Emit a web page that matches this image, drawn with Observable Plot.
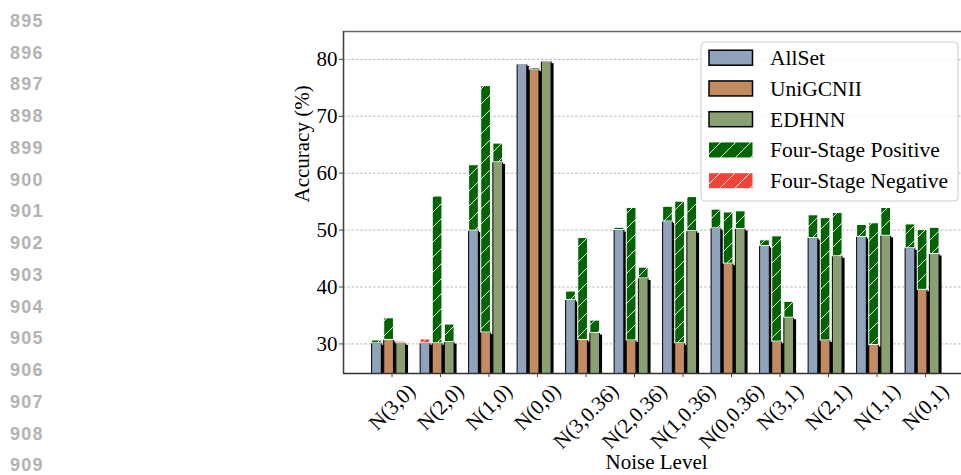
<!DOCTYPE html>
<html>
<head>
<meta charset="utf-8">
<script src="https://cdn.jsdelivr.net/npm/d3@7"></script>
<script src="https://cdn.jsdelivr.net/npm/@observablehq/plot@0.6"></script>
<style>
  html, body { margin: 0; padding: 0; background: #fff; overflow: hidden; }
  #chart svg { overflow: hidden; display: block; }
</style>
</head>
<body>
<div id="chart"></div>
<script>
// Noise levels on the x axis
const categories = ["N(3,0)", "N(2,0)", "N(1,0)", "N(0,0)", "N(3,0.36)", "N(2,0.36)",
                    "N(1,0.36)", "N(0,0.36)", "N(3,1)", "N(2,1)", "N(1,1)", "N(0,1)"];

// Baseline accuracy of each model (%)
const allsetBase   = [30.1, 30.8, 49.9, 79.1, 37.7, 50.0, 51.5, 50.3, 47.2, 48.6, 48.8, 46.8];
const unigcniiBase = [30.7, 30.1, 32.0, 78.2, 30.7, 30.6, 30.1, 44.1, 30.4, 30.6, 29.8, 39.5];
const edhnnBase    = [30.4, 30.3, 61.9, 79.6, 31.9, 41.5, 49.8, 50.2, 34.6, 45.4, 49.0, 45.8];

// Accuracy of each model after the Four-Stage procedure (%)
const allsetFour   = [30.6, 30.1, 61.4, 79.2, 39.2, 50.4, 54.1, 53.6, 48.2, 52.6, 50.9, 51.0];
const unigcniiFour = [34.5, 55.9, 75.3, 78.5, 48.6, 53.9, 55.0, 53.1, 48.9, 52.1, 51.2, 50.0];
const edhnnFour    = [30.1, 33.4, 65.2, 79.7, 34.1, 43.4, 55.8, 53.3, 37.4, 53.0, 53.9, 50.4];

const seriesNames = ["AllSet", "UniGCNII", "EDHNN"];
const seriesColors = ["#8fa3bc", "#c48a60", "#8aa070"];
const yTicks = [30, 40, 50, 60, 70, 80];
const lineNumbers = [895, 896, 897, 898, 899, 900, 901, 902, 903, 904, 905, 906, 907, 908, 909];

const baseSets = [allsetBase, unigcniiBase, edhnnBase];
const fourSets = [allsetFour, unigcniiFour, edhnnFour];

// Bar placement inside each noise-level group (in category units)
const barWidth = 0.2;
const barOffsets = [-0.31, -0.06, 0.19];

const rows = [];
categories.forEach((c, i) => {
  seriesNames.forEach((s, k) => {
    const base = baseSets[k][i], four = fourSets[k][i];
    rows.push({i, k, series: s, base, four, lo: Math.min(base, four), hi: Math.max(base, four)});
  });
});
const gains = rows.filter(d => d.four > d.base);
const losses = rows.filter(d => d.four < d.base);

const bx1 = d => d.i + barOffsets[d.k] - barWidth / 2;
const bx2 = d => d.i + barOffsets[d.k] + barWidth / 2;

const serif = "'Liberation Serif', 'Times New Roman', Times, serif";
const fontPx = 21;

// Measure tick label lengths so each rotated label is centred under its tick
const ctx = document.createElement("canvas").getContext("2d");
ctx.font = `${fontPx}px ${serif}`;
const tickLabelMarks = categories.map((c, i) => {
  const L = ctx.measureText(c).width;
  return Plot.text([c], {
    x: () => i, text: d => d, frameAnchor: "bottom",
    rotate: -45, textAnchor: "end", lineAnchor: "middle",
    dx: 0.3535 * L, dy: 14, fontSize: fontPx, fill: "black"
  });
});

const yDomain = [24.8, 84.9];

const chart = Plot.plot({
  width: 961,
  height: 475,
  marginLeft: 343,
  marginRight: 0,
  marginTop: 31,
  marginBottom: 102,
  style: {fontFamily: serif, fontSize: `${fontPx}px`, color: "black", background: "white"},
  x: {domain: [-1, 12], range: [343, 973.5], axis: null},
  y: {domain: yDomain, axis: null},
  color: {domain: seriesNames, range: seriesColors},
  marks: [
    Plot.ruleY(yTicks, {stroke: "#b0b0b0", strokeWidth: 0.9, strokeDasharray: "2.5,1.8"}),
    // drop shadow behind each model bar
    Plot.rect(rows, {x1: bx1, x2: bx2, y1: 0, y2: d => d.lo, fill: "black", dx: 2.5, dy: 2, clip: true}),
    Plot.rect(rows, {x1: bx1, x2: bx2, y1: 0, y2: d => d.lo, fill: "series", stroke: "black", strokeWidth: 1, clip: true}),
    Plot.rect(gains, {x1: bx1, x2: bx2, y1: "lo", y2: "hi", fill: "url(#hatch-pos)", stroke: "white", strokeWidth: 1, clip: true}),
    Plot.rect(losses, {x1: bx1, x2: bx2, y1: "lo", y2: "hi", fill: "url(#hatch-neg)", stroke: "white", strokeWidth: 1, clip: true}),
    // spines
    Plot.ruleY([yDomain[1]], {stroke: "#666", strokeWidth: 1.6}),
    Plot.ruleY([yDomain[0]], {stroke: "#333", strokeWidth: 1.6}),
    Plot.ruleX([-1], {stroke: "#444", strokeWidth: 1.6}),
    Plot.axisY(yTicks, {tickSize: 4, tickPadding: 2, fontSize: fontPx, label: null, stroke: "#444"}),
    Plot.axisX(d3.range(categories.length), {tickSize: 4, tickFormat: () => "", label: null, stroke: "#444"}),
    ...tickLabelMarks,
    Plot.text(["Accuracy (%)"], {frameAnchor: "left", rotate: -90, dx: -41, fontSize: fontPx, fill: "black"}),
    Plot.text(["Noise Level"], {frameAnchor: "bottom", dx: 4, dy: 95, fontSize: fontPx, fill: "black"})
  ]
});

document.getElementById("chart").appendChild(chart);

const svg = d3.select(chart);

// Hatch patterns for the Four-Stage segments
const defs = svg.insert("defs", ":first-child");
function hatch(id, color) {
  const p = defs.append("pattern").attr("id", id)
    .attr("patternUnits", "userSpaceOnUse").attr("width", 15).attr("height", 15);
  p.append("rect").attr("width", 15).attr("height", 15).attr("fill", color);
  p.append("path").attr("d", "M-1,16 L16,-1 M-4,4 L4,-4 M11,19 L19,11")
    .attr("stroke", "white").attr("stroke-width", 1).attr("stroke-opacity", 0.9);
}
hatch("hatch-pos", "#006400");
hatch("hatch-neg", "#f4443a");

// Legend
const legendItems = [
  {label: seriesNames[0], fill: seriesColors[0], edge: "black"},
  {label: seriesNames[1], fill: seriesColors[1], edge: "black"},
  {label: seriesNames[2], fill: seriesColors[2], edge: "black"},
  {label: "Four-Stage Positive", fill: "url(#hatch-pos)", edge: "none"},
  {label: "Four-Stage Negative", fill: "url(#hatch-neg)", edge: "none"}
];
const lg = svg.append("g").attr("transform", "translate(701,42)").attr("text-anchor", "start");
lg.append("rect").attr("width", 257).attr("height", 159).attr("rx", 4)
  .attr("fill", "white").attr("fill-opacity", 0.85).attr("stroke", "#cccccc").attr("stroke-width", 1);
legendItems.forEach((it, j) => {
  const cy = 15.7 + j * 30.75;
  lg.append("rect").attr("x", 8).attr("y", cy - 7.5).attr("width", 43.5).attr("height", 15)
    .attr("fill", it.fill).attr("stroke", it.edge).attr("stroke-width", 1.5);
  lg.append("text").attr("x", 69).attr("y", cy).attr("dy", "0.35em").attr("text-anchor", "start")
    .attr("font-family", serif).attr("font-size", 21.5).attr("fill", "black").text(it.label);
});

// Manuscript line numbers in the left margin
svg.append("g").attr("text-anchor", "start").selectAll("text").data(lineNumbers).join("text")
  .attr("x", 10).attr("y", (d, j) => 20.3 + j * 31.75).attr("dy", "0.36em")
  .attr("text-anchor", "start")
  .attr("font-family", "'Liberation Sans', Arial, Helvetica, sans-serif")
  .attr("font-weight", "bold").attr("font-size", 18).attr("letter-spacing", 1.2)
  .attr("fill", "#b3b3b3").text(d => d);
</script>
</body>
</html>
